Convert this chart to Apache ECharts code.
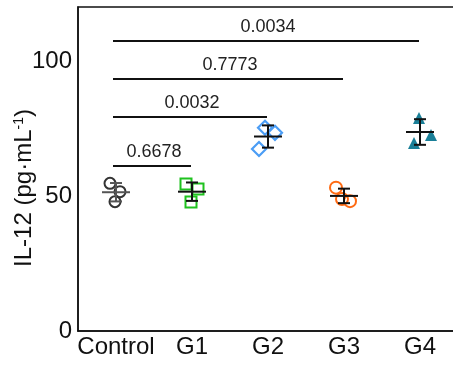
<!DOCTYPE html>
<html><head><meta charset="utf-8">
<script src="https://cdn.jsdelivr.net/npm/echarts@6/dist/echarts.min.js"></script>
<style>html,body{margin:0;padding:0;background:#fff}#c{width:453px;height:365px}</style>
</head><body><div id="c"></div>
<script>
const categories = ['Control', 'G1', 'G2', 'G3', 'G4'];
const controlVals = [54.7, 51.6, 47.9];
const g1Vals = [54.4, 52.6, 47.8];
const g2Vals = [75.3, 73.4, 67.4];
const g3Vals = [53.1, 48.1, 48.9];
const g4Vals = [78.9, 72.6, 69.6];
const yTicks = [0, 50, 100];
const compareFrom = [0, 0, 0, 0];
const compareTo = [1, 2, 3, 4];
const pValues = ['0.6678', '0.0032', '0.7773', '0.0034'];
const bracketLevels = [61.1, 79.3, 93.3, 107.4];

const groups = [controlVals, g1Vals, g2Vals, g3Vals, g4Vals];
// presentation
const jitterPx = [[-6, 4, -1], [-6, 6, -1], [-3, 7, -9], [-8, 6, -2], [-1, 11, -6]];
const styles = [
  {symbol: 'circle', size: 11, color: 'transparent', border: '#333333', bw: 2},
  {symbol: 'rect', size: 11, color: 'transparent', border: '#1fc21f', bw: 2},
  {symbol: 'diamond', size: 14, color: 'transparent', border: '#4b9df5', bw: 2.2},
  {symbol: 'circle', size: 12, color: 'transparent', border: '#ff6a12', bw: 2},
  {symbol: 'triangle', size: 12, color: '#197f98', border: '#197f98', bw: 0}
];

const pointSeries = groups.map((vals, gi) => ({
  type: 'scatter',
  z: 2,
  symbol: styles[gi].symbol,
  symbolSize: styles[gi].size,
  itemStyle: {color: styles[gi].color, borderColor: styles[gi].border, borderWidth: styles[gi].bw, opacity: 1},
  data: vals.map((v, k) => ({value: [gi, v], symbolOffset: [jitterPx[gi][k], 0]})),
  silent: true
}));

const stats = groups.map(vals => {
  const n = vals.length;
  const m = vals.reduce((a, b) => a + b, 0) / n;
  const sd = Math.sqrt(vals.reduce((a, b) => a + (b - m) * (b - m), 0) / (n - 1));
  return [m, sd];
});

const meanSeries = {
  type: 'custom',
  z: 5,
  silent: true,
  data: stats.map((s, gi) => [gi, s[0], s[0] - s[1], s[0] + s[1]]),
  renderItem: function (params, api) {
    const c = api.coord([api.value(0), api.value(1)]);
    const lo = api.coord([api.value(0), api.value(2)]);
    const hi = api.coord([api.value(0), api.value(3)]);
    const col = params.dataIndex === 0 ? '#555' : '#111';
    const st = {stroke: col, lineWidth: 2};
    return {type: 'group', children: [
      {type: 'line', shape: {x1: c[0] - 14, y1: c[1], x2: c[0] + 14, y2: c[1]}, style: st},
      {type: 'line', shape: {x1: c[0], y1: lo[1], x2: c[0], y2: hi[1]}, style: st},
      {type: 'line', shape: {x1: c[0] - 6, y1: lo[1], x2: c[0] + 6, y2: lo[1]}, style: st},
      {type: 'line', shape: {x1: c[0] - 6, y1: hi[1], x2: c[0] + 6, y2: hi[1]}, style: st}
    ]};
  }
};

const bracketSeries = {
  type: 'custom',
  z: 6,
  silent: true,
  data: pValues.map((p, i) => [compareFrom[i], compareTo[i], bracketLevels[i]]),
  renderItem: function (params, api) {
    const a = api.coord([api.value(0), api.value(2)]);
    const b = api.coord([api.value(1), api.value(2)]);
    return {type: 'group', children: [
      {type: 'line', shape: {x1: a[0] - 3, y1: a[1], x2: b[0] - 1, y2: b[1]}, style: {stroke: '#111', lineWidth: 2}},
      {type: 'text', x: (a[0] + b[0]) / 2, y: a[1] - 5,
        style: {text: pValues[params.dataIndex], fill: '#222', font: '18px "Liberation Sans", Arial, sans-serif', textAlign: 'center', textVerticalAlign: 'bottom'}}
    ]};
  }
};

const chart = echarts.init(document.getElementById('c'));
chart.setOption({
  animation: false,
  backgroundColor: '#fff',
  textStyle: {fontFamily: '"Liberation Sans", Arial, sans-serif'},
  grid: {left: 78, right: -5, top: 7, bottom: 34, show: true, borderColor: '#111', borderWidth: 1.5,
    backgroundColor: 'transparent', containLabel: false, outerBoundsMode: 'none'},
  xAxis: {
    type: 'category',
    data: categories,
    axisLine: {lineStyle: {color: '#111', width: 1.5}},
    axisTick: {inside: true, alignWithLabel: true, length: 4, lineStyle: {color: '#111', width: 1.5}},
    axisLabel: {color: '#111', fontSize: 24, margin: 4, interval: 0, hideOverlap: false}
  },
  yAxis: {
    type: 'value',
    min: 0, max: 120, interval: 50,
    name: 'IL-12 (pg·mL{sup|-1})',
    nameLocation: 'middle',
    nameGap: 42,
    nameMoveOverlap: false,
    nameTextStyle: {color: '#111', fontSize: 24, padding: [0, 38, 0, 0],
      rich: {sup: {fontSize: 14, verticalAlign: 'top', padding: [0, 0, 9, 0]}}},
    axisLine: {show: true, lineStyle: {color: '#111', width: 1.5}},
    axisTick: {inside: true, length: 4, lineStyle: {color: '#111', width: 1.5}},
    axisLabel: {color: '#111', fontSize: 24, margin: 6, showMaxLabel: false,
      formatter: v => yTicks.indexOf(v) >= 0 ? String(v) : ''},
    splitLine: {show: false}
  },
  series: [...pointSeries, meanSeries, bracketSeries]
});
</script></body></html>
